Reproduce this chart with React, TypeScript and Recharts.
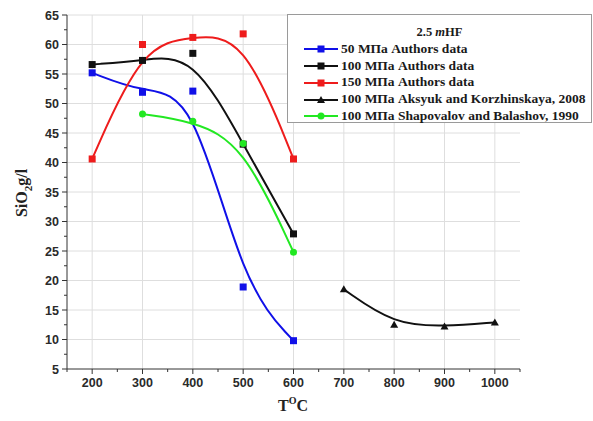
import { CartesianGrid, Legend, Line, LineChart, XAxis, YAxis } from "recharts";

const T_AUTHORS = [200, 300, 400, 500, 600];
const MPA50 = [55.2, 51.9, 52.1, 18.9, 9.8];
const MPA100 = [56.6, 57.3, 58.5, 43.1, 27.9];
const MPA150 = [40.6, 60.0, 61.2, 61.8, 40.6];
const T_SHAP = [300, 400, 500, 600];
const SHAP = [48.2, 47.0, 43.2, 24.8];
const T_AKS = [700, 800, 900, 1000];
const AKS = [18.5, 12.5, 12.2, 12.9];

const X_TICKS = [150, 200, 250, 300, 350, 400, 450, 500, 550, 600, 650, 700, 750, 800, 850, 900, 950, 1000, 1050];
const X_MAJOR = [200, 300, 400, 500, 600, 700, 800, 900, 1000];
const Y_TICKS = [5, 7.5, 10, 12.5, 15, 17.5, 20, 22.5, 25, 27.5, 30, 32.5, 35, 37.5, 40, 42.5, 45, 47.5, 50, 52.5, 55, 57.5, 60, 62.5, 65];
const Y_MAJOR = [10, 15, 20, 25, 30, 35, 40, 45, 50, 55, 60, 65];

const toPoints = (xs: number[], ys: number[]) => xs.map((x, i) => ({ x, y: ys[i] }));

type Marker = "square" | "circle" | "triangle";

interface Series {
  name: string;
  color: string;
  marker: Marker;
  data: { x: number; y: number }[];
}

const SERIES: Series[] = [
  { name: "50 МПа Authors data", color: "#1010e8", marker: "square", data: toPoints(T_AUTHORS, MPA50) },
  { name: "100 МПа Authors data", color: "#111111", marker: "square", data: toPoints(T_AUTHORS, MPA100) },
  { name: "150 МПа Authors data", color: "#ee1c1c", marker: "square", data: toPoints(T_AUTHORS, MPA150) },
  { name: "100 МПа Aksyuk and Korzhinskaya, 2008", color: "#111111", marker: "triangle", data: toPoints(T_AKS, AKS) },
  { name: "100 МПа Shapovalov and Balashov, 1990", color: "#22e822", marker: "circle", data: toPoints(T_SHAP, SHAP) },
];

const SERIF = "'Liberation Serif', 'DejaVu Serif', serif";
const SANS = "'Liberation Sans', Arial, sans-serif";

function markerShape(marker: Marker, color: string, cx: number, cy: number, size: number, key?: any) {
  if (marker === "square") {
    return <rect key={key} x={cx - size / 2} y={cy - size / 2} width={size} height={size} fill={color} />;
  }
  if (marker === "circle") {
    return <circle key={key} cx={cx} cy={cy} r={size / 2} fill={color} />;
  }
  const h = size * 0.95;
  return (
    <polygon
      key={key}
      points={`${cx},${cy - h * 0.6} ${cx - size / 2 - 0.5},${cy + h * 0.45} ${cx + size / 2 + 0.5},${cy + h * 0.45}`}
      fill={color}
    />
  );
}

const makeDot = (s: Series) => (props: any) => {
  const { cx, cy, index } = props;
  if (cx == null || cy == null) return <g key={index} />;
  return markerShape(s.marker, s.color, cx, cy, 7, index);
};

const XTick = (props: any) => {
  const { x, y, payload } = props;
  const major = X_MAJOR.includes(payload.value);
  return (
    <g>
      <line x1={x} x2={x} y1={y} y2={y + (major ? 5 : 3)} stroke="#333" strokeWidth={1} />
      {major && (
        <text x={x} y={y + 18} textAnchor="middle" fontFamily={SANS} fontWeight="bold" fontSize={12.5} fill="#2a2a2a">
          {payload.value}
        </text>
      )}
    </g>
  );
};

const YTick = (props: any) => {
  const { x, y, payload } = props;
  const major = Y_MAJOR.includes(payload.value) || payload.value === 5;
  return (
    <g>
      <line x1={x} x2={x - (major ? 5 : 3)} y1={y} y2={y} stroke="#333" strokeWidth={1} />
      {major && (
        <text x={x - 8} y={y + 4.5} textAnchor="end" fontFamily={SANS} fontWeight="bold" fontSize={12.5} fill="#2a2a2a">
          {payload.value}
        </text>
      )}
    </g>
  );
};

const YLabel = () => (
  <text
    transform="translate(27, 193) rotate(-90)"
    textAnchor="middle"
    fontFamily={SERIF}
    fontWeight="bold"
    fontSize={16}
    fill="#222"
  >
    SiO<tspan fontSize={11} dy={5}>2</tspan>
    <tspan dy={-5}>g/l</tspan>
  </text>
);

const XLabel = () => (
  <text x={293} y={411} textAnchor="middle" fontFamily={SERIF} fontWeight="bold" fontSize={16} fill="#222">
    T<tspan fontSize={10} dy={-7}>O</tspan>
    <tspan dy={7}>C</tspan>
  </text>
);

const LegendBox = () => (
  <div
    style={{
      border: "1px solid #9a9a9a",
      background: "#fff",
      boxSizing: "border-box",
      width: 305,
      height: 109,
      padding: "9px 0 0 16px",
      fontFamily: SERIF,
      fontWeight: "bold",
      fontSize: 13.5,
      color: "#1a1a1a",
      lineHeight: "16.8px",
    }}
  >
    <div style={{ textAlign: "center", paddingRight: 16, fontSize: 12.5 }}>
      2.5 <i>m</i>HF
    </div>
    {SERIES.map((s) => (
      <div key={s.name} style={{ display: "flex", alignItems: "center", whiteSpace: "nowrap" }}>
        <svg width={36} height={12} style={{ marginRight: 1 }}>
          <line x1={0} x2={34} y1={6} y2={6} stroke={s.color} strokeWidth={2} />
          {markerShape(s.marker, s.color, 17, 6, 7)}
        </svg>
        <span>{s.name}</span>
      </div>
    ))}
  </div>
);

export default function App() {
  return (
    <div style={{ position: "absolute", left: 0, top: 0, width: 593, height: 421, background: "#fff" }}>
      <LineChart width={593} height={421} margin={{ top: 15, right: 73, bottom: 0, left: 0 }}>
        <CartesianGrid
          stroke="#dedede"
          verticalValues={X_MAJOR}
          horizontalValues={Y_MAJOR}
        />
        <XAxis
          type="number"
          dataKey="x"
          domain={[150, 1050]}
          ticks={X_TICKS}
          interval={0}
          height={52}
          tickSize={0}
          tickMargin={0}
          tickLine={false}
          tick={<XTick />}
          axisLine={{ stroke: "#333", strokeWidth: 1 }}
          label={<XLabel />}
          allowDataOverflow
        />
        <YAxis
          type="number"
          dataKey="y"
          domain={[5, 65]}
          ticks={Y_TICKS}
          interval={0}
          width={67}
          tickSize={0}
          tickMargin={0}
          tickLine={false}
          tick={<YTick />}
          axisLine={{ stroke: "#333", strokeWidth: 1 }}
          label={<YLabel />}
          allowDataOverflow
        />
        <Legend
          layout="horizontal"
          verticalAlign="middle"
          align="center"
          wrapperStyle={{ left: 287, top: 14, width: 305, height: 109 }}
          content={() => <LegendBox />}
        />
        {SERIES.map((s) => (
          <Line
            key={s.name}
            data={s.data}
            dataKey="y"
            name={s.name}
            type="basis"
            stroke={s.color}
            strokeWidth={2}
            dot={makeDot(s)}
            activeDot={false}
            isAnimationActive={false}
          />
        ))}
      </LineChart>
    </div>
  );
}
